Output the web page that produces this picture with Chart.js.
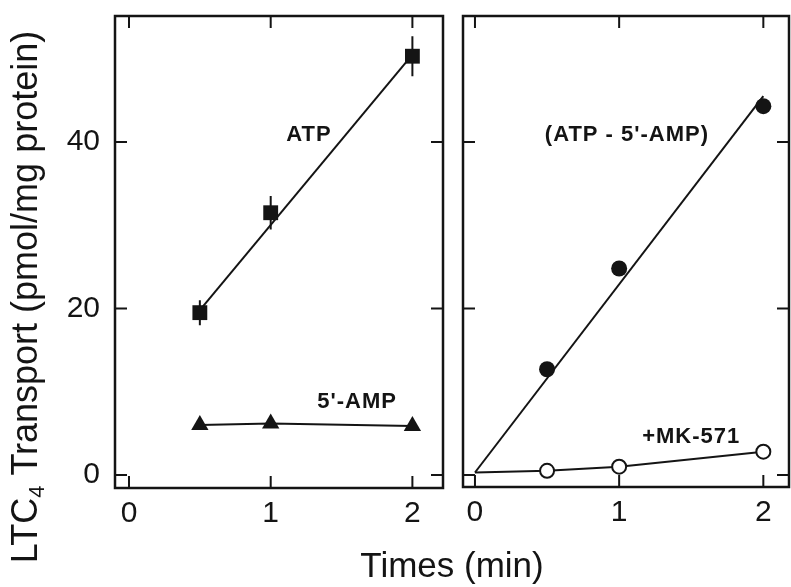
<!DOCTYPE html>
<html>
<head>
<meta charset="utf-8">
<script src="https://cdn.jsdelivr.net/npm/chart.js@4.4.1/dist/chart.umd.min.js"></script>
<style>
  html, body { margin: 0; padding: 0; background: #fff; }
  #wrap { position: relative; width: 791px; height: 587px; overflow: hidden; background: #fff; }
  #cA { position: absolute; left: 0; top: 0; }
  #cB { position: absolute; left: 451px; top: 0; }
</style>
</head>
<body>
<div id="wrap">
  <canvas id="cA" width="791" height="587"></canvas>
  <canvas id="cB" width="350" height="587"></canvas>
</div>
<script>
// ---------- data ----------
const timeTicks = [0, 1, 2];            // min
const transportTicks = [0, 20, 40];     // pmol/mg protein
const times = [0.5, 1, 2];

// left panel
const atpValues = [19.5, 31.5, 50.3];
const atpErrors = [1.5, 2.0, 2.4];
const atpFitX = [0.5, 2];
const atpFitY = [19.8, 50.5];
const ampValues = [6.0, 6.2, 5.9];

// right panel
const diffValues = [12.7, 24.8, 44.3];
const diffFitX = [0, 2];
const diffFitY = [0.3, 45.5];
const mkLineX = [0, 0.5, 1, 2];
const mkLineY = [0.3, 0.5, 1.0, 2.8];
const mkValues = [0.5, 1.0, 2.8];

// ---------- helpers ----------
const FONT = '"Liberation Sans", Arial, Helvetica, sans-serif';
const INK = '#141414';
const pts = (xs, ys) => xs.map((x, i) => ({ x: x, y: ys[i] }));

// box frame with inward ticks, drawn from the chart's own scales
const framePlugin = {
  id: 'frame',
  afterDraw(chart) {
    const { ctx, chartArea: a } = chart;
    const x = chart.scales.x, y = chart.scales.y;
    ctx.save();
    ctx.strokeStyle = INK;
    ctx.lineWidth = 2.5;
    ctx.strokeRect(a.left, a.top, a.right - a.left, a.bottom - a.top);
    ctx.lineWidth = 2;
    const L = 12;
    ctx.beginPath();
    timeTicks.forEach(v => {
      const px = x.getPixelForValue(v);
      ctx.moveTo(px, a.top); ctx.lineTo(px, a.top + L);
      ctx.moveTo(px, a.bottom); ctx.lineTo(px, a.bottom - L);
    });
    transportTicks.forEach(v => {
      const py = y.getPixelForValue(v);
      ctx.moveTo(a.left, py); ctx.lineTo(a.left + L, py);
      ctx.moveTo(a.right, py); ctx.lineTo(a.right - L, py);
    });
    ctx.stroke();
    ctx.restore();
  }
};

// error bars for a dataset (options.plugins.errbars = {xs, ys, errs})
const errPlugin = {
  id: 'errbars',
  beforeDatasetsDraw(chart, args, opts) {
    if (!opts || !opts.xs) return;
    const { ctx } = chart;
    const x = chart.scales.x, y = chart.scales.y;
    ctx.save();
    ctx.strokeStyle = INK;
    ctx.lineWidth = 2;
    ctx.beginPath();
    opts.xs.forEach((xv, i) => {
      const px = x.getPixelForValue(xv);
      ctx.moveTo(px, y.getPixelForValue(opts.ys[i] - opts.errs[i]));
      ctx.lineTo(px, y.getPixelForValue(opts.ys[i] + opts.errs[i]));
    });
    ctx.stroke();
    ctx.restore();
  }
};

// in-plot text labels (options.plugins.notes = {items:[{text,x,y}]})
const notesPlugin = {
  id: 'notes',
  afterDraw(chart, args, opts) {
    if (!opts || !opts.items) return;
    const { ctx } = chart;
    const x = chart.scales.x, y = chart.scales.y;
    ctx.save();
    ctx.fillStyle = INK;
    ctx.font = 'bold 22px ' + FONT;
    if ('letterSpacing' in ctx) ctx.letterSpacing = '1px';
    ctx.textAlign = 'center';
    ctx.textBaseline = 'middle';
    opts.items.forEach(n => {
      ctx.fillText(n.text, x.getPixelForValue(n.x), y.getPixelForValue(n.y));
    });
    ctx.restore();
  }
};

// axis titles (left chart only)
const titlesPlugin = {
  id: 'titles',
  afterDraw(chart, args, opts) {
    if (!opts || !opts.on) return;
    const { ctx } = chart;
    ctx.save();
    ctx.fillStyle = INK;
    // x title
    ctx.font = '35px ' + FONT;
    ctx.textAlign = 'center';
    ctx.textBaseline = 'alphabetic';
    ctx.fillText('Times (min)', 452, 577);
    // y title with subscript
    const big = '36px ' + FONT, small = '22px ' + FONT;
    const p1 = 'LTC', p2 = '4', p3 = ' Transport (pmol/mg protein)';
    ctx.font = big; const w1 = ctx.measureText(p1).width, w3 = ctx.measureText(p3).width;
    ctx.font = small; const w2 = ctx.measureText(p2).width;
    const total = w1 + w2 + w3;
    ctx.translate(37, 297);
    ctx.rotate(-Math.PI / 2);
    ctx.textAlign = 'left';
    let sx = -total / 2;
    ctx.font = big; ctx.fillText(p1, sx, 0); sx += w1;
    ctx.font = small; ctx.fillText(p2, sx, 7); sx += w2;
    ctx.font = big; ctx.fillText(p3, sx, 0);
    ctx.restore();
  }
};

function xScale(min, max, height) {
  return {
    type: 'linear', position: 'bottom', min: min, max: max,
    afterBuildTicks: s => { s.ticks = timeTicks.map(v => ({ value: v })); },
    afterFit: s => { s.height = height; s.paddingLeft = 0; s.paddingRight = 0; },
    grid: { display: false, drawTicks: false },
    border: { display: false },
    ticks: { color: INK, padding: 8, font: { family: FONT, size: 30 }, callback: v => String(v) }
  };
}

function yScale(min, max, show, width) {
  return {
    type: 'linear', position: 'left', min: min, max: max, display: show,
    afterBuildTicks: s => { s.ticks = transportTicks.map(v => ({ value: v })); },
    afterFit: s => { s.width = width; s.paddingTop = 0; s.paddingBottom = 0; },
    grid: { display: false, drawTicks: false },
    border: { display: false },
    ticks: { display: show, color: INK, padding: 15, font: { family: FONT, size: 30 }, callback: v => String(v) }
  };
}

const common = {
  responsive: false,
  animation: false,
  events: [],
};

// ---------- left panel ----------
new Chart(document.getElementById('cA'), {
  type: 'scatter',
  data: {
    datasets: [
      { label: 'ATP', data: pts(times, atpValues), order: 0,
        pointStyle: 'rect', pointRadius: 10.5, backgroundColor: INK, borderWidth: 0, showLine: false },
      { label: "5'-AMP", data: pts(times, ampValues), order: 0,
        pointStyle: 'triangle', pointRadius: 10, backgroundColor: INK, borderColor: INK,
        borderWidth: 2, pointBorderWidth: 0, showLine: true },
      { label: 'ATP fit', data: pts(atpFitX, atpFitY), order: 1,
        pointRadius: 0, borderColor: INK, borderWidth: 2, showLine: true }
    ]
  },
  options: Object.assign({}, common, {
    layout: { padding: { left: 0, top: 16, right: 348, bottom: 0 } },
    scales: { x: xScale(-0.0988, 2.216, 99), y: yScale(-1.56, 55.13, true, 115) },
    plugins: {
      legend: { display: false }, tooltip: { enabled: false },
      errbars: { xs: times, ys: atpValues, errs: atpErrors },
      notes: { items: [ { text: 'ATP', x: 1.27, y: 40.8 }, { text: "5'-AMP", x: 1.61, y: 8.8 } ] },
      titles: { on: true }
    }
  }),
  plugins: [framePlugin, errPlugin, notesPlugin, titlesPlugin]
});

// ---------- right panel ----------
new Chart(document.getElementById('cB'), {
  type: 'scatter',
  data: {
    datasets: [
      { label: '(ATP - 5\'-AMP)', data: pts(times, diffValues), order: 0,
        pointStyle: 'circle', pointRadius: 8, backgroundColor: INK, borderWidth: 0, showLine: false },
      { label: '+MK-571', data: pts(times, mkValues), order: 0,
        pointStyle: 'circle', pointRadius: 7, backgroundColor: '#fff', borderColor: INK,
        borderWidth: 2, showLine: false },
      { label: 'diff fit', data: pts(diffFitX, diffFitY), order: 1,
        pointRadius: 0, borderColor: INK, borderWidth: 2, showLine: true },
      { label: 'MK line', data: pts(mkLineX, mkLineY), order: 1,
        pointRadius: 0, borderColor: INK, borderWidth: 2, showLine: true }
    ]
  },
  options: Object.assign({}, common, {
    layout: { padding: { left: 12, top: 16, right: 12, bottom: 0 } },
    scales: { x: xScale(-0.083, 2.178, 100), y: yScale(-1.44, 55.13, false, 0) },
    plugins: {
      legend: { display: false }, tooltip: { enabled: false },
      notes: { items: [ { text: "(ATP - 5'-AMP)", x: 1.054, y: 40.8 }, { text: '+MK-571', x: 1.50, y: 4.6 } ] }
    }
  }),
  plugins: [framePlugin, errPlugin, notesPlugin]
});
</script>
</body>
</html>
